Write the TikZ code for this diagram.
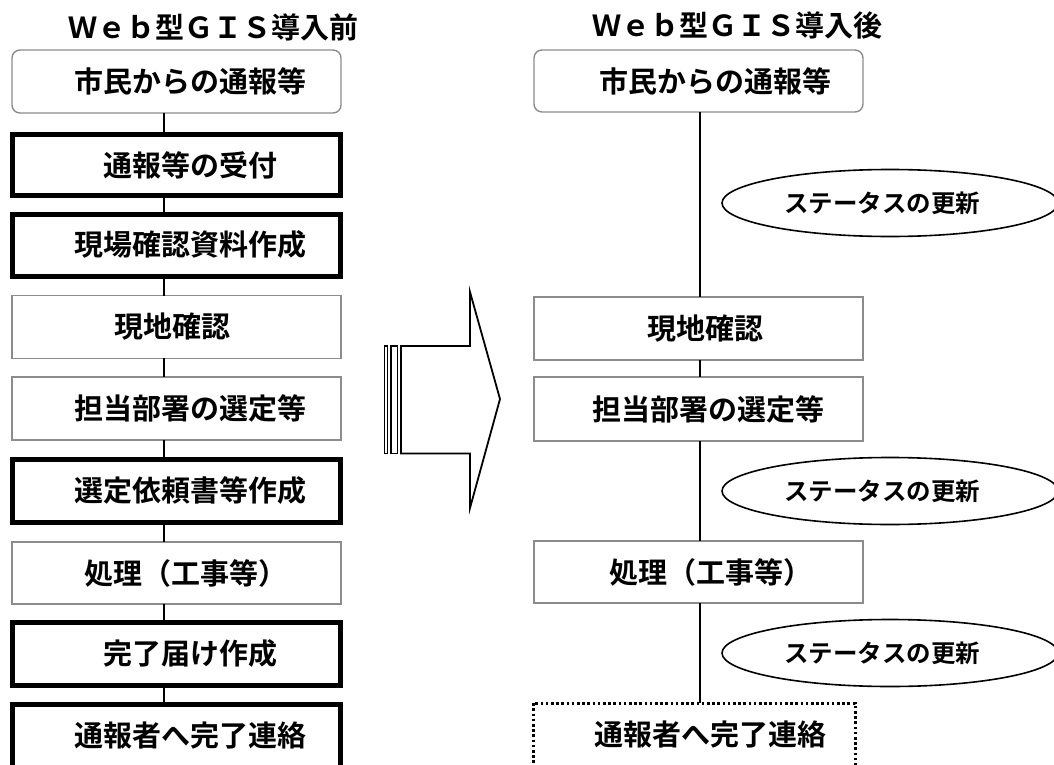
\documentclass[tikz,border=0pt]{standalone}
\usepackage{fontspec}
\setmainfont{Noto Sans CJK JP}[BoldFont={* Bold}]
\usetikzlibrary{shapes.geometric}
\definecolor{boxgray}{RGB}{140,140,140}
\begin{document}
\begin{tikzpicture}[x=1pt,y=-1pt,
  every node/.style={inner sep=0pt,outer sep=0pt},
  lbl/.style={font=\fontsize{29}{30}\selectfont\bfseries},
  elbl/.style={font=\fontsize{24.5}{26}\selectfont\bfseries},
  ttl/.style={font=\fontsize{29}{30}\selectfont\bfseries},
  thinbox/.style={rectangle,draw=boxgray,line width=1.4pt,fill=white,minimum width=329pt,lbl},
  thickbox/.style={rectangle,draw=black,line width=5pt,fill=white,minimum width=328pt,lbl},
  roundbox/.style={thinbox,rounded corners=8pt},
  dotbox/.style={rectangle,draw=black,line width=3pt,dash pattern=on 2.6pt off 2.6pt,fill=white,minimum width=322pt,lbl},
  status/.style={ellipse,draw=black,line width=1.6pt,fill=white,minimum width=336pt,minimum height=67pt,elbl},
  conn/.style={draw=black,line width=1.1pt},
  bigarrow/.style={draw=black,line width=1.8pt,fill=white,line join=miter}
]
\useasboundingbox (0,0) rectangle (1054,765);
\clip (0,0) rectangle (1054,765);

% titles
\node[ttl] (tl) at (213,27) {Ｗｅｂ型ＧＩＳ導入前};
\node[ttl] (tr) at (737,25) {Ｗｅｂ型ＧＩＳ導入後};

% connector x positions
\coordinate (lx) at (164,0);
\coordinate (rx) at (700,0);

% left column boxes
\node[roundbox,minimum height=63pt] (b1) at (176.5,81.5) {\hspace*{28pt}市民からの通報等};
\node[thickbox,minimum height=61pt] (b2) at (176,165) {\hspace*{28pt}通報等の受付};
\node[thickbox,minimum height=62pt] (b3) at (176,245) {\hspace*{28pt}現場確認資料作成};
\node[thinbox,minimum height=62.5pt] (b4) at (176.5,327) {現地確認\hspace*{8pt}};
\node[thinbox,minimum height=63pt] (b5) at (176.5,408.5) {\hspace*{28pt}担当部署の選定等};
\node[thickbox,minimum height=63pt] (b6) at (176,490.5) {\hspace*{28pt}選定依頼書等作成};
\node[thinbox,minimum height=62pt] (b7) at (176.5,573) {\hspace*{18pt}処理（工事等）};
\node[thickbox,minimum height=63pt] (b8) at (176,653.5) {\hspace*{28pt}完了届け作成};
\node[thickbox,minimum height=63pt] (b9) at (176,735.5) {\hspace*{28pt}通報者へ完了連絡};

% right column boxes
\node[roundbox,minimum height=62pt] (r1) at (698.5,81) {\hspace*{33pt}市民からの通報等};
\node[thinbox,minimum height=63pt] (r4) at (698.5,328.5) {\hspace*{13pt}現地確認};
\node[thinbox,minimum height=64pt] (r5) at (698.5,409) {\hspace*{19pt}担当部署の選定等};
\node[thinbox,minimum height=62pt] (r7) at (698.5,572) {\hspace*{25pt}処理（工事等）};
\node[dotbox,minimum height=63pt] (r9) at (694,734.5) {\hspace*{32pt}通報者へ完了連絡};

% status ellipses
\node[status] (e1) at (890,203) {\raisebox{-5pt}{ステータスの更新}\hspace*{16pt}};
\node[status] (e2) at (890,491) {\raisebox{-5pt}{ステータスの更新}\hspace*{16pt}};
\node[status] (e3) at (890,653) {\raisebox{-5pt}{ステータスの更新}\hspace*{16pt}};

% left connectors
\draw[conn] (b1.south -| lx) -- (b2.north -| lx);
\draw[conn] (b2.south -| lx) -- (b3.north -| lx);
\draw[conn] (b3.south -| lx) -- (b4.north -| lx);
\draw[conn] (b4.south -| lx) -- (b5.north -| lx);
\draw[conn] (b5.south -| lx) -- (b6.north -| lx);
\draw[conn] (b6.south -| lx) -- (b7.north -| lx);
\draw[conn] (b7.south -| lx) -- (b8.north -| lx);
\draw[conn] (b8.south -| lx) -- (b9.north -| lx);

% right connectors
\draw[conn] (r1.south -| rx) -- (r4.north -| rx);
\draw[conn] (r4.south -| rx) -- (r5.north -| rx);
\draw[conn] (r5.south -| rx) -- (r7.north -| rx);
\draw[conn] (r7.south -| rx) -- (r9.north -| rx);

% big block arrow
\draw[black,line width=1.7pt,fill=white] (384.5,346) rectangle (387.5,453.5);
\draw[black,line width=1.7pt,fill=white] (391,346) rectangle (397.5,453.5);
\draw[bigarrow] (401,346) -- (470,346) -- (470,292) -- (500,399) -- (470,508) -- (470,453.5) -- (401,453.5) -- cycle;
\end{tikzpicture}
\end{document}
